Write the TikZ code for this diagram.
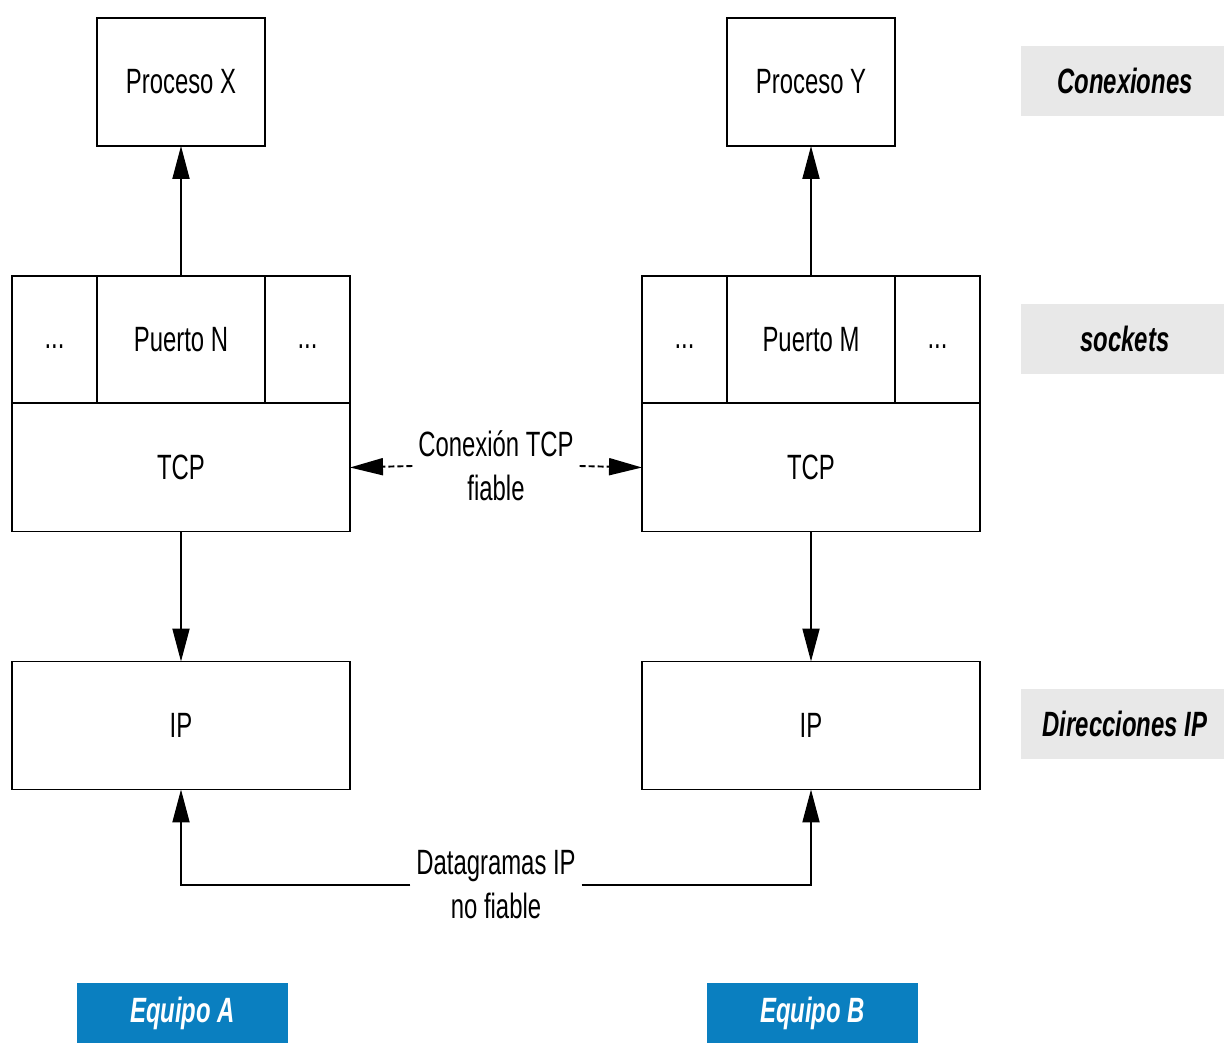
\documentclass[tikz,border=0pt]{standalone}
\usepackage{fontspec}
\setmainfont[FakeStretch=0.68]{Liberation Sans}
\usetikzlibrary{arrows.meta}
\usetikzlibrary{positioning}
\definecolor{tagGray}{HTML}{E8E8E8}
\definecolor{hostBlue}{HTML}{0A7FC0}
\newcommand{\celldots}{\smash{\raisebox{-0.18cm}{...}}}

\begin{document}
\begin{tikzpicture}[x=0.02cm,y=-0.02cm,->,>={Triangle[length=0.66cm,width=0.34cm]},line width=1.1pt,
    font=\fontsize{20}{25}\selectfont,
    proc node/.style={rectangle,draw,minimum width=3.36cm,minimum height=2.56cm,inner sep=0pt,outer sep=0pt},
    cell node/.style={rectangle,draw,minimum height=2.54cm,inner sep=0pt,outer sep=0pt},
    layer node/.style={rectangle,draw,minimum width=6.76cm,minimum height=2.56cm,inner sep=0pt,outer sep=0pt},
    tag node/.style={rectangle,fill=tagGray,minimum width=4.06cm,minimum height=1.4cm,font=\fontsize{20}{25}\selectfont\bfseries\itshape},
    host node/.style={rectangle,fill=hostBlue,text=white,minimum width=4.22cm,minimum height=1.2cm,font=\fontsize{20}{25}\selectfont\bfseries\itshape},
    link label/.style={align=center,inner sep=0.1cm}]
    \useasboundingbox (0,0) rectangle (1224,1043);
    \begin{scope}
      % equipo A
      \node[proc node] (procX) at (181,82) {Proceso X};
      \node[cell node,minimum width=1.7cm] (dotsAl) at (54.5,339.5) {\celldots};
      \node[cell node,minimum width=3.36cm] (puertoN) at (181,339.5) {Puerto N};
      \node[cell node,minimum width=1.7cm] (dotsAr) at (307.5,339.5) {\celldots};
      \node[layer node] (tcpA) at (181,467.5) {TCP};
      \node[layer node] (ipA) at (181,725.5) {IP};
      % equipo B
      \node[proc node] (procY) at (811,82) {Proceso Y};
      \node[cell node,minimum width=1.7cm] (dotsBl) at (684.5,339.5) {\celldots};
      \node[cell node,minimum width=3.36cm] (puertoM) at (811,339.5) {Puerto M};
      \node[cell node,minimum width=1.7cm] (dotsBr) at (937.5,339.5) {\celldots};
      \node[layer node] (tcpB) at (811,467.5) {TCP};
      \node[layer node] (ipB) at (811,725.5) {IP};

      \node[link label] (tcpLink) at (496,466) {Conexión TCP\\fiable};
      \node[link label] (ipLink) at (496,885) {Datagramas IP\\no fiable};

      \node[tag node] (tagCon) at (1122.5,81) {\hspace*{0.1cm}Conexiones};
      \node[tag node] (tagSock) at (1122.5,339) {\hspace*{0.1cm}sockets};
      \node[tag node] (tagDir) at (1122.5,724) {\hspace*{0.1cm}Direcciones IP};

      \node[host node] (hostA) at (182.5,1013) {Equipo A};
      \node[host node] (hostB) at (812.5,1013) {Equipo B};

      \path (puertoN) edge (procX);
      \path (puertoM) edge (procY);
      \path (tcpA) edge (ipA);
      \path (tcpB) edge (ipB);
      \path[dash pattern=on 0.12cm off 0.06cm] (tcpLink.west) edge (tcpA.east);
      \path[dash pattern=on 0.12cm off 0.06cm] (tcpLink.east) edge (tcpB.west);
      \draw (ipLink.west) -| (ipA.south);
      \draw (ipLink.east) -| (ipB.south);
    \end{scope}
  \end{tikzpicture}
\end{document}
